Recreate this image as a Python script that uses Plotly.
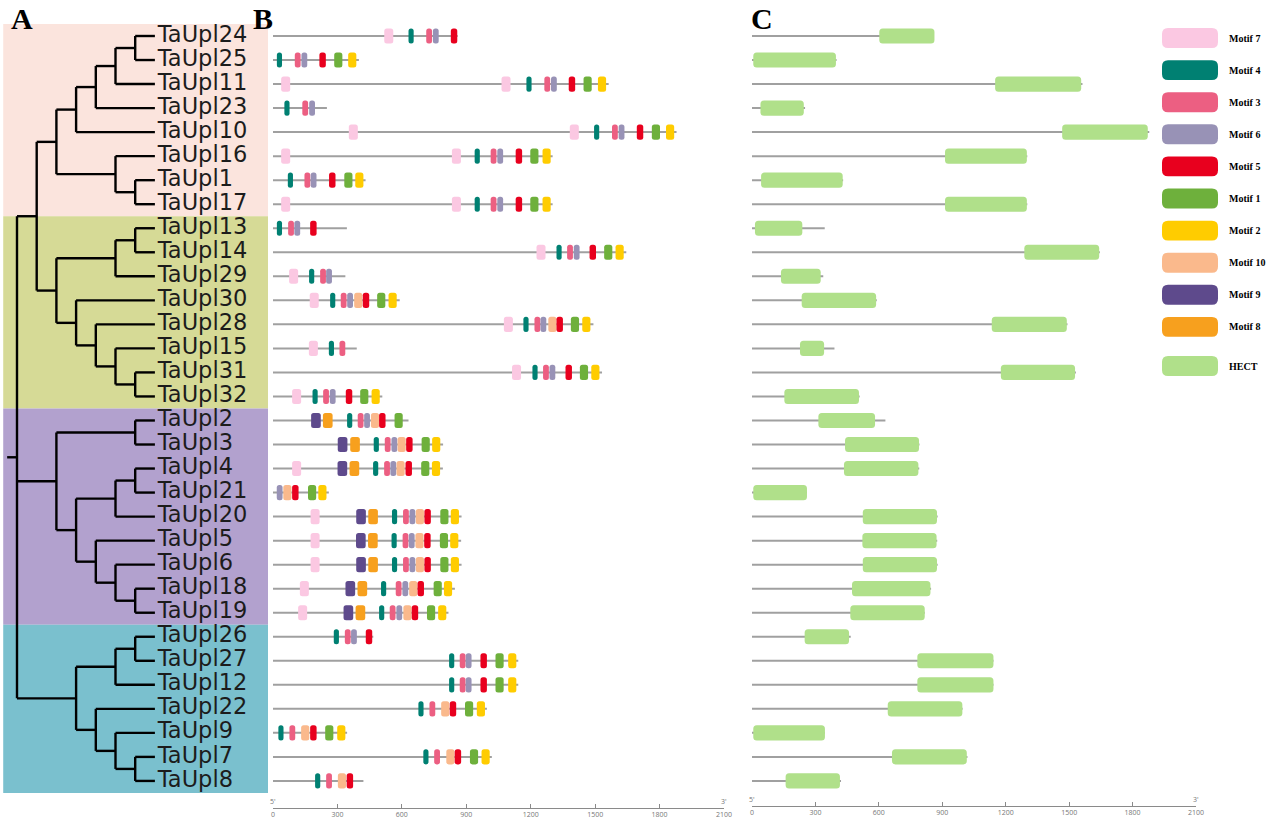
import plotly.graph_objects as go

GENES = ["TaUpl24", "TaUpl25", "TaUpl11", "TaUpl23", "TaUpl10", "TaUpl16", "TaUpl1", "TaUpl17",
         "TaUpl13", "TaUpl14", "TaUpl29", "TaUpl30", "TaUpl28", "TaUpl15", "TaUpl31", "TaUpl32",
         "TaUpl2", "TaUpl3", "TaUpl4", "TaUpl21", "TaUpl20", "TaUpl5", "TaUpl6", "TaUpl18", "TaUpl19",
         "TaUpl26", "TaUpl27", "TaUpl12", "TaUpl22", "TaUpl9", "TaUpl7", "TaUpl8"]

PROTEIN_LEN = [860, 400, 1563, 251, 1879, 1302, 431, 1302, 344, 1645, 337, 590, 1492, 390, 1532, 509,
               631, 792, 791, 260, 878, 876, 878, 847, 817, 467, 1142, 1142, 996, 345, 1019, 421]

HECT_START = [602, 6, 1150, 40, 1467, 913, 43, 913, 14, 1288, 137, 235, 1134, 227, 1177, 153,
              314, 440, 435, 6, 524, 522, 524, 473, 465, 249, 782, 782, 642, 6, 662, 159]
HECT_END = [863, 397, 1557, 245, 1872, 1300, 429, 1300, 238, 1642, 325, 587, 1489, 341, 1528, 506,
            582, 790, 787, 260, 875, 873, 875, 844, 817, 459, 1142, 1142, 995, 345, 1016, 416]

# motif sites per gene: (motif number, centre position in aa)
MOTIF_SITES = [
    [(7, 539), (4, 643), (3, 727), (6, 758), (5, 843)],
    [(4, 30), (3, 115), (6, 146), (5, 231), (1, 304), (2, 369)],
    [(7, 59), (7, 1085), (4, 1192), (3, 1277), (6, 1308), (5, 1392), (1, 1465), (2, 1532)],
    [(4, 65), (3, 150), (6, 182)],
    [(7, 374), (7, 1403), (4, 1507), (3, 1592), (6, 1623), (5, 1709), (1, 1783), (2, 1849)],
    [(7, 59), (7, 854), (4, 951), (3, 1027), (6, 1058), (5, 1145), (1, 1217), (2, 1274)],
    [(4, 81), (3, 160), (6, 189), (5, 276), (1, 351), (2, 402)],
    [(7, 59), (7, 854), (4, 951), (3, 1027), (6, 1058), (5, 1145), (1, 1217), (2, 1274)],
    [(4, 30), (3, 84), (6, 113), (5, 188)],
    [(7, 1248), (4, 1332), (3, 1383), (6, 1414), (5, 1489), (1, 1561), (2, 1614)],
    [(7, 96), (4, 180), (3, 233), (6, 261)],
    [(7, 192), (4, 278), (3, 329), (6, 359), (10, 397), (5, 433), (1, 504), (2, 557)],
    [(7, 1096), (4, 1178), (3, 1231), (6, 1259), (10, 1301), (5, 1335), (1, 1406), (2, 1459)],
    [(7, 188), (4, 272), (3, 323)],
    [(7, 1134), (4, 1220), (3, 1271), (6, 1301), (5, 1377), (1, 1448), (2, 1501)],
    [(7, 110), (4, 196), (3, 247), (6, 278), (5, 354), (1, 425), (2, 478)],
    [(9, 200), (8, 255), (4, 357), (3, 408), (6, 438), (10, 475), (5, 509), (1, 585)],
    [(9, 324), (8, 382), (4, 481), (3, 534), (6, 565), (10, 599), (5, 635), (1, 711), (2, 760)],
    [(7, 110), (9, 323), (8, 379), (4, 478), (3, 531), (6, 560), (10, 594), (5, 632), (1, 709), (2, 759)],
    [(6, 31), (10, 67), (5, 104), (1, 182), (2, 230)],
    [(7, 196), (9, 410), (8, 466), (4, 566), (3, 619), (6, 649), (10, 684), (5, 720), (1, 798), (2, 847)],
    [(7, 196), (9, 409), (8, 465), (4, 564), (3, 617), (6, 646), (10, 682), (5, 719), (1, 796), (2, 844)],
    [(7, 196), (9, 410), (8, 466), (4, 566), (3, 619), (6, 649), (10, 684), (5, 720), (1, 798), (2, 847)],
    [(7, 146), (9, 360), (8, 416), (4, 515), (3, 585), (6, 616), (10, 653), (5, 688), (1, 767), (2, 815)],
    [(7, 138), (9, 351), (8, 407), (4, 506), (3, 557), (6, 588), (10, 626), (5, 661), (1, 736), (2, 788)],
    [(4, 295), (3, 348), (6, 377), (5, 447)],
    [(4, 832), (3, 883), (6, 911), (5, 981), (1, 1055), (2, 1114)],
    [(4, 832), (3, 883), (6, 911), (5, 981), (1, 1055), (2, 1114)],
    [(4, 689), (3, 742), (10, 802), (5, 838), (1, 913), (2, 968)],
    [(4, 37), (3, 90), (10, 150), (5, 188), (1, 262), (2, 318)],
    [(4, 712), (3, 764), (10, 826), (5, 861), (1, 936), (2, 990)],
    [(4, 208), (3, 261), (10, 321), (5, 358)],
]

LEGEND_ORDER = [7, 4, 3, 6, 5, 1, 2, 10, 9, 8]
MOTIF_LEN = {7: 42, 4: 24, 3: 27, 6: 27, 5: 30, 1: 38, 2: 38, 10: 38, 9: 45, 8: 45}
MOTIF_COLOR = {
    7: "rgb(251,200,226)", 4: "rgb(0,128,114)", 3: "rgb(236,95,130)", 6: "rgb(152,146,182)",
    5: "rgb(232,0,30)", 1: "rgb(110,176,60)", 2: "rgb(255,204,0)", 10: "rgb(250,185,140)",
    9: "rgb(94,74,140)", 8: "rgb(247,160,30)",
}
HECT_COLOR = "rgb(176,224,138)"

# tree: (node depth, children); leaves are gene names at depth 7
TIP_DEPTH = 7
TREE = (0, [
    (1, [
        (2, [
            (3, [(4, [(5, [(6, ["TaUpl24", "TaUpl25"]), "TaUpl11"]), "TaUpl23"]), "TaUpl10"]),
            (5, ["TaUpl16", (6, ["TaUpl1", "TaUpl17"])]),
        ]),
        (2, [
            (5, [(6, ["TaUpl13", "TaUpl14"]), "TaUpl29"]),
            (3, ["TaUpl30", (4, ["TaUpl28", (5, ["TaUpl15", (6, ["TaUpl31", "TaUpl32"])])])]),
        ]),
    ]),
    (2, [
        (6, ["TaUpl2", "TaUpl3"]),
        (3, [(5, [(6, ["TaUpl4", "TaUpl21"]), "TaUpl20"]),
             (4, ["TaUpl5", (5, ["TaUpl6", (6, ["TaUpl18", "TaUpl19"])])])]),
    ]),
    (3, [
        (5, [(6, ["TaUpl26", "TaUpl27"]), "TaUpl12"]),
        (4, ["TaUpl22", (5, ["TaUpl9", (6, ["TaUpl7", "TaUpl8"])])]),
    ]),
])

CLADES = [("TaUpl24", "TaUpl17", "rgb(251,228,221)"),
          ("TaUpl13", "TaUpl32", "rgb(214,218,150)"),
          ("TaUpl2", "TaUpl19", "rgb(178,161,206)"),
          ("TaUpl26", "TaUpl8", "rgb(122,192,206)")]

row = {g: i + 1 for i, g in enumerate(GENES)}
W, H = 1269, 821
ROW_PX0, ROW_STEP = 36, 24.03
AA_PER_PX = 2100 / 451

tx, ty = [], []


def draw(node):
    if isinstance(node, str):
        return TIP_DEPTH, row[node]
    depth, kids = node
    pts = [draw(k) for k in kids]
    ys = [p[1] for p in pts]
    tx.extend([depth, depth, None])
    ty.extend([min(ys), max(ys), None])
    for cx, cy in pts:
        tx.extend([depth, cx, None])
        ty.extend([cy, cy, None])
    return depth, (min(ys) + max(ys)) / 2


root_y = draw(TREE)[1]
tx.extend([-0.5, 0, None])
ty.extend([root_y, root_y, None])

fig = go.Figure()

for first, last, col in CLADES:
    fig.add_shape(type="rect", xref="x domain", yref="y", x0=0.012, x1=1,
                  y0=row[first] - 0.5, y1=row[last] + 0.5, fillcolor=col, line_width=0, layer="below")

fig.add_trace(go.Scatter(x=tx, y=ty, mode="lines", line=dict(color="black", width=2.4),
                         xaxis="x", yaxis="y", hoverinfo="skip"))
fig.add_trace(go.Scatter(x=[TIP_DEPTH + 0.15] * len(GENES), y=[row[g] for g in GENES], mode="text",
                         text=GENES, textposition="middle right",
                         textfont=dict(family="DejaVu Sans", size=22.5, color="#1c1c1c"),
                         xaxis="x", yaxis="y", hoverinfo="skip"))

# gene backbones in B and C
lx, ly = [], []
for g, L in zip(GENES, PROTEIN_LEN):
    lx.extend([0, L, None])
    ly.extend([row[g], row[g], None])
for ax in ("x2", "x3"):
    fig.add_trace(go.Scatter(x=lx, y=ly, mode="lines", line=dict(color="#a0a0a0", width=2),
                             xaxis=ax, yaxis="y", hoverinfo="skip"))


def box(x0, x1, yc, h, rx, ry, color, xref, yref):
    rx = min(rx, (x1 - x0) / 2)
    y0, y1 = yc - h / 2, yc + h / 2
    path = (f"M{x0 + rx},{y0} L{x1 - rx},{y0} Q{x1},{y0} {x1},{y0 + ry} "
            f"L{x1},{y1 - ry} Q{x1},{y1} {x1 - rx},{y1} L{x0 + rx},{y1} Q{x0},{y1} {x0},{y1 - ry} "
            f"L{x0},{y0 + ry} Q{x0},{y0} {x0 + rx},{y0} Z")
    fig.add_shape(type="path", path=path, xref=xref, yref=yref, fillcolor=color, line_width=0)


BOX_H = 0.63
for g, sites in zip(GENES, MOTIF_SITES):
    for m, c in sites:
        half = MOTIF_LEN[m] / 2
        box(c - half, c + half, row[g], BOX_H, 2.5 * AA_PER_PX, 2.5 / ROW_STEP, MOTIF_COLOR[m], "x2", "y")

for g, s, e in zip(GENES, HECT_START, HECT_END):
    box(s, e, row[g], BOX_H, 3.5 * AA_PER_PX, 3.5 / ROW_STEP, HECT_COLOR, "x3", "y")

# legend
leg_names = ["Motif %d" % m for m in LEGEND_ORDER] + ["HECT"]
leg_cols = [MOTIF_COLOR[m] for m in LEGEND_ORDER] + [HECT_COLOR]
leg_y = list(range(len(LEGEND_ORDER))) + [len(LEGEND_ORDER) + 0.22]
for name, col, yy in zip(leg_names, leg_cols, leg_y):
    box(0, 1, yy, 0.62, 6 / 56, 6 / 32.1, col, "x4", "y2")
    fig.add_annotation(x=1227 / W, xref="paper", y=yy, yref="y2", text="<b>%s</b>" % name,
                       showarrow=False, xanchor="left",
                       font=dict(family="Liberation Serif", size=10, color="black"))

for letter, px in (("A", 22), ("B", 263), ("C", 762)):
    fig.add_annotation(x=px / W, y=1, xref="paper", yref="paper", text="<b>%s</b>" % letter,
                       showarrow=False, xanchor="center", yanchor="top",
                       font=dict(family="Liberation Serif", size=30, color="black"))

for ax, ypx in (("x2", 801), ("x3", 799)):
    for xv, lab in ((0, "5'"), (2100, "3'")):
        fig.add_annotation(x=xv, xref=ax, y=1 - ypx / H, yref="paper", text=lab, showarrow=False,
                           xanchor="center", yanchor="middle", font=dict(size=7, color="#777"))

axis_style = dict(range=[0, 2100], showline=True, linecolor="#8a8a8a", linewidth=1, ticks="inside",
                  ticklen=4, tickcolor="#8a8a8a", tickvals=list(range(0, 2101, 300)),
                  tickfont=dict(size=7, color="#777"), showgrid=False, zeroline=False, anchor="free")

fig.update_layout(
    width=W, height=H, margin=dict(l=0, r=0, t=0, b=0, autoexpand=False),
    paper_bgcolor="white", plot_bgcolor="rgba(0,0,0,0)", showlegend=False,
    xaxis=dict(domain=[0, 268 / W], range=[-17 / 19.7, (268 - 17) / 19.7], visible=False),
    xaxis2=dict(domain=[273 / W, 724 / W], position=1 - 808 / H, **axis_style),
    xaxis3=dict(domain=[752 / W, 1196 / W], position=1 - 806 / H, **axis_style),
    xaxis4=dict(domain=[1162 / W, 1218 / W], range=[0, 1], visible=False, anchor="y2"),
    yaxis=dict(domain=[0, 1], range=[1 + (H - ROW_PX0) / ROW_STEP, 1 - ROW_PX0 / ROW_STEP], visible=False),
    yaxis2=dict(domain=[0, 1], range=[(H - 38) / 32.1, -38 / 32.1], visible=False, anchor="x4"),
)

fig.write_html("out.html", config={"displayModeBar": False},
               post_script="document.body.style.margin='0';")
